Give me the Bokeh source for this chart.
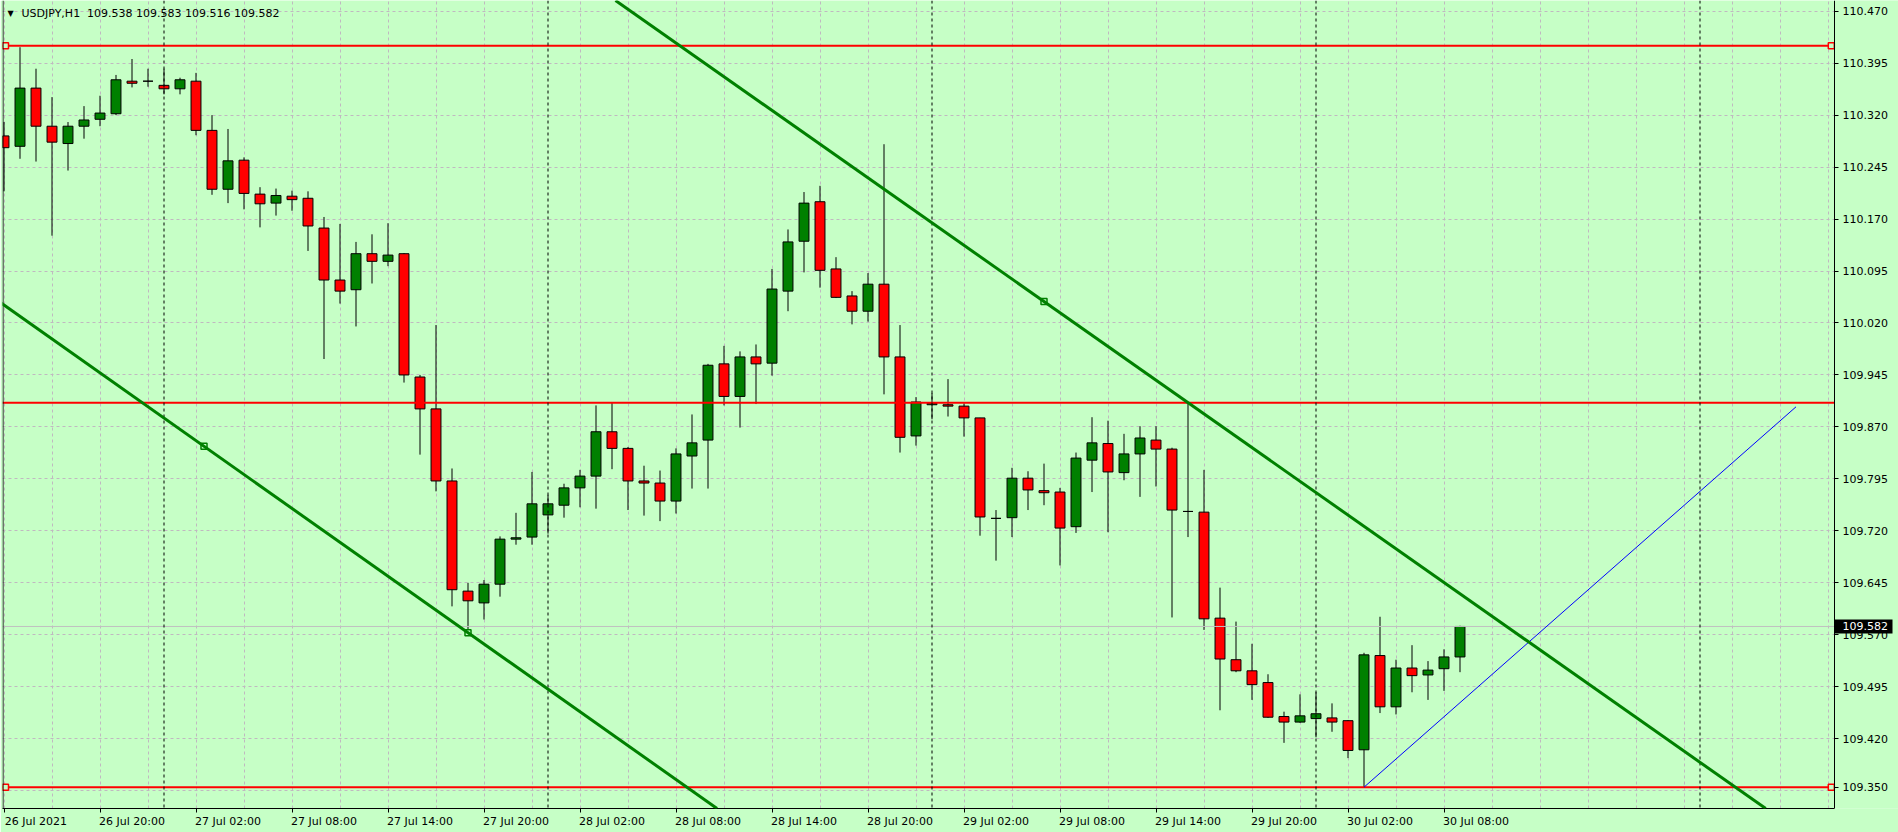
from bokeh.plotting import figure
from bokeh.models import (ColumnDataSource, Range1d, FixedTicker, Span, Slope,
                          Label, PrintfTickFormatter, LinearAxis)
from bokeh.embed import file_html
from bokeh.resources import INLINE

# ---------------- data ----------------
title_text = "USDJPY,H1\u00a0 109.538 109.583 109.516 109.582"

opens = [110.290, 110.275, 110.359, 110.304, 110.279, 110.304, 110.314, 110.322, 110.369, 110.369,
         110.363, 110.358, 110.369, 110.298, 110.213, 110.255, 110.206, 110.193, 110.203, 110.200,
         110.157, 110.082, 110.068, 110.120, 110.109, 110.120, 109.942, 109.896, 109.792, 109.633,
         109.616, 109.643, 109.708, 109.711, 109.743, 109.757, 109.782, 109.799, 109.863, 109.839,
         109.792, 109.789, 109.763, 109.828, 109.851, 109.961, 109.914, 109.971, 109.962, 110.066,
         110.138, 110.195, 110.098, 110.059, 110.037, 110.076, 109.971, 109.857, 109.902, 109.902,
         109.900, 109.883, 109.738, 109.739, 109.796, 109.778, 109.776, 109.726, 109.822, 109.846,
         109.804, 109.831, 109.851, 109.838, 109.748, 109.747, 109.594, 109.534, 109.518, 109.501,
         109.452, 109.444, 109.449, 109.450, 109.446, 109.404, 109.540, 109.466, 109.522, 109.512,
         109.521, 109.538]
highs = [110.310, 110.418, 110.387, 110.346, 110.310, 110.333, 110.348, 110.378, 110.401, 110.387,
         110.387, 110.374, 110.381, 110.320, 110.300, 110.259, 110.216, 110.214, 110.211, 110.210,
         110.173, 110.163, 110.137, 110.148, 110.164, 110.121, 109.945, 110.017, 109.810, 109.645,
         109.649, 109.712, 109.746, 109.805, 109.772, 109.788, 109.808, 109.901, 109.905, 109.841,
         109.814, 109.807, 109.839, 109.888, 109.961, 109.987, 109.979, 109.989, 110.098, 110.155,
         110.209, 110.218, 110.115, 110.066, 110.092, 110.278, 110.017, 109.913, 109.919, 109.939,
         109.904, 109.883, 109.750, 109.811, 109.806, 109.817, 109.782, 109.833, 109.884, 109.879,
         109.860, 109.871, 109.871, 109.840, 109.905, 109.808, 109.638, 109.589, 109.557, 109.513,
         109.459, 109.484, 109.487, 109.471, 109.447, 109.544, 109.596, 109.534, 109.555, 109.532,
         109.549, 109.583]
lows = [110.210, 110.257, 110.253, 110.146, 110.240, 110.286, 110.304, 110.320, 110.360, 110.361,
        110.350, 110.350, 110.291, 110.205, 110.193, 110.184, 110.158, 110.175, 110.182, 110.124,
        109.968, 110.048, 110.015, 110.077, 110.102, 109.934, 109.830, 109.777, 109.611, 109.573,
        109.592, 109.625, 109.700, 109.700, 109.716, 109.739, 109.754, 109.752, 109.809, 109.750,
        109.742, 109.734, 109.745, 109.781, 109.781, 109.901, 109.869, 109.903, 109.944, 110.037,
        110.093, 110.071, 110.056, 110.018, 110.022, 109.917, 109.833, 109.843, 109.881, 109.885,
        109.856, 109.713, 109.677, 109.711, 109.750, 109.757, 109.670, 109.717, 109.776, 109.718,
        109.793, 109.769, 109.784, 109.595, 109.711, 109.577, 109.461, 109.516, 109.476, 109.450,
        109.414, 109.443, 109.422, 109.430, 109.392, 109.350, 109.457, 109.455, 109.487, 109.476,
        109.489, 109.516]
closes = [110.273, 110.359, 110.304, 110.281, 110.304, 110.313, 110.323, 110.371, 110.366, 110.369,
          110.358, 110.371, 110.298, 110.213, 110.254, 110.207, 110.192, 110.204, 110.198, 110.160,
          110.082, 110.066, 110.120, 110.109, 110.118, 109.945, 109.896, 109.792, 109.635, 109.619,
          109.643, 109.708, 109.710, 109.759, 109.759, 109.782, 109.799, 109.863, 109.839, 109.792,
          109.789, 109.763, 109.831, 109.847, 109.959, 109.914, 109.971, 109.961, 110.069, 110.137,
          110.193, 110.096, 110.057, 110.037, 110.076, 109.971, 109.855, 109.906, 109.904, 109.900,
          109.883, 109.740, 109.738, 109.796, 109.779, 109.775, 109.724, 109.825, 109.847, 109.805,
          109.831, 109.854, 109.838, 109.750, 109.748, 109.593, 109.535, 109.518, 109.498, 109.451,
          109.444, 109.453, 109.456, 109.444, 109.403, 109.541, 109.466, 109.522, 109.511, 109.519,
          109.538, 109.582]

x_tick_bars = [0, 6, 12, 18, 24, 30, 36, 42, 48, 54, 60, 66, 72, 78, 84, 90]
x_tick_labels = ["26 Jul 2021", "26 Jul 20:00", "27 Jul 02:00", "27 Jul 08:00", "27 Jul 14:00",
                 "27 Jul 20:00", "28 Jul 02:00", "28 Jul 08:00", "28 Jul 14:00", "28 Jul 20:00",
                 "29 Jul 02:00", "29 Jul 08:00", "29 Jul 14:00", "29 Jul 20:00", "30 Jul 02:00",
                 "30 Jul 08:00"]
x_grid_bars = [0, 3, 6, 9, 12, 15, 18, 21, 24, 27, 30, 33, 36, 39, 42, 45, 48, 51, 54, 57, 60,
               63, 66, 69, 72, 75, 78, 81, 84, 87, 90, 93, 96, 99, 102, 105, 108, 111, 114]
day_separator_bars = [10, 34, 58, 82, 106]

y_tick_values = [110.470, 110.395, 110.320, 110.245, 110.170, 110.095, 110.020, 109.945,
                 109.870, 109.795, 109.720, 109.645, 109.570, 109.495, 109.420, 109.350]
y_grid_values = [110.470, 110.395, 110.320, 110.245, 110.170, 110.095, 110.020, 109.945,
                 109.870, 109.795, 109.720, 109.645, 109.570, 109.495, 109.420, 109.345]

hline_prices = [110.420, 109.905, 109.350]
selected_hline_prices = [110.420, 109.350]
upper_trend_bars = [65, 74]
upper_trend_prices = [110.051, 109.905]
lower_trend_bars = [12.5, 29]
lower_trend_prices = [109.842, 109.573]
blue_bars = [85, 112]
blue_prices = [109.350, 109.899]
last_price = 109.582

# ---------------- style / layout ----------------
BG = "#C6FFC6"
BULL = "#008000"
BEAR = "#FF0000"
GRID = "#C0B8C0"
FONT = "DejaVu Sans"
PX_PER_BAR = 16
PRICE_PER_PX = 0.0014433
LEFT_PAD = 2
FRAME_W = 1896          # chart area + price scale (the price scale lives inside the frame)
FRAME_H = 808
X_START = -0.09375                    # bar position at the frame's left edge
X_CHART_END = 114.40625               # right edge of the chart area (price scale begins)
X_END = X_START + FRAME_W / PX_PER_BAR
Y_END = 110.48544
Y_START = Y_END - FRAME_H * PRICE_PER_PX
LABEL_SHIFT = 2  # MT4 date labels start at their tick: centre them ~2 bars to the right

p = figure(frame_width=FRAME_W, frame_height=FRAME_H,
           x_range=Range1d(X_START, X_END), y_range=Range1d(Y_START, Y_END),
           y_axis_location="right", output_backend="svg", toolbar_location=None,
           min_border_left=LEFT_PAD, min_border_top=0, min_border_right=0,
           min_border_bottom=24)
p.background_fill_color = BG
p.border_fill_color = BG
p.outline_line_color = None

xa = p.xaxis[0]
ya = p.yaxis[0]

# grid
p.xgrid.ticker = FixedTicker(ticks=x_grid_bars)
p.ygrid.ticker = FixedTicker(ticks=y_grid_values)
for g in (p.xgrid, p.ygrid):
    g.grid_line_color = GRID
    g.grid_line_dash = "3 3"
    g.grid_line_width = 1

# price-scale area: plain background (hides grid lines there)
p.quad(left=[X_CHART_END], right=[X_END], bottom=[Y_START], top=[Y_END],
       fill_color=BG, line_color=None)

# chart left border
p.add_layout(Span(location=X_START + 0.5 / PX_PER_BAR, dimension="height",
                  line_color="black", line_width=1))

# x axis: tick marks at the bars (minor ticks), labels centred just right of them
label_ticks = [b + LABEL_SHIFT for b in x_tick_bars]
xa.ticker = FixedTicker(ticks=label_ticks, minor_ticks=x_tick_bars)
xa.major_label_overrides = {t: s for t, s in zip(label_ticks, x_tick_labels)}
xa.bounds = (X_START, X_CHART_END)
xa.major_tick_line_color = None
xa.major_tick_out = 0
xa.major_tick_in = 0
xa.minor_tick_line_color = "black"
xa.minor_tick_out = 4
xa.minor_tick_in = 0
xa.major_label_standoff = 2

# y axis: fixed at the chart's right edge
ya.fixed_location = X_CHART_END
ya.ticker = FixedTicker(ticks=y_tick_values)
ya.formatter = PrintfTickFormatter(format="%.3f")
ya.major_tick_line_color = "black"
ya.major_tick_out = 4
ya.major_tick_in = 0
ya.minor_tick_line_color = None
ya.major_label_standoff = 4
for ax in (xa, ya):
    ax.axis_line_color = "black"
    ax.major_label_text_font = FONT
    ax.major_label_text_font_size = "11px"
    ax.major_label_text_color = "black"

# last-price tag on the price scale (black box = thick tick, white label on top)
tag = LinearAxis(fixed_location=X_CHART_END, ticker=FixedTicker(ticks=[last_price]),
                 formatter=PrintfTickFormatter(format="%.3f"),
                 axis_line_color=None, minor_tick_line_color=None,
                 major_tick_line_color="black", major_tick_line_width=14,
                 major_tick_line_cap="butt", major_tick_out=58, major_tick_in=0,
                 major_label_standoff=-50, major_label_text_font=FONT,
                 major_label_text_font_size="11px", major_label_text_color="white")
p.add_layout(tag, "right")

# day separators
for b in day_separator_bars:
    p.add_layout(Span(location=b, dimension="height", line_color="black",
                      line_dash="3 3", line_width=1))

# candles
idx = list(range(len(opens)))
colors = [BULL if c > o else (BEAR if c < o else "black") for o, c in zip(opens, closes)]
src = ColumnDataSource(dict(
    x=idx, high=highs, low=lows,
    top=[max(o, c) for o, c in zip(opens, closes)],
    bottom=[min(o, c) for o, c in zip(opens, closes)],
    color=colors))
p.segment(x0="x", y0="high", x1="x", y1="low", source=src, line_color="black", line_width=1)
p.vbar(x="x", width=0.62, top="top", bottom="bottom", source=src,
       fill_color="color", line_color="black", line_width=1)

# last price line (chart area only)
p.segment(x0=[X_START], y0=[last_price], x1=[X_CHART_END], y1=[last_price],
          line_color="#C0C0C0", line_width=1)

# horizontal red lines (chart area only)
n = len(hline_prices)
p.segment(x0=[X_START] * n, y0=hline_prices, x1=[X_CHART_END] * n, y1=hline_prices,
          line_color="#FF0000", line_width=2)
sq_x, sq_y = [], []
for pr in selected_hline_prices:
    sq_x += [X_START + 3 / PX_PER_BAR, X_CHART_END - 3.2 / PX_PER_BAR]
    sq_y += [pr, pr]
p.scatter(sq_x, sq_y, marker="square", size=6, line_color="#FF0000", line_width=1.5, fill_color=BG)

# trend lines
def slope_of(bx, py):
    g = (py[1] - py[0]) / (bx[1] - bx[0])
    return g, py[0] - g * bx[0]

g1, b1 = slope_of(upper_trend_bars, upper_trend_prices)
g2, b2 = slope_of(lower_trend_bars, lower_trend_prices)
p.add_layout(Slope(gradient=g1, y_intercept=b1, line_color=BULL, line_width=3))
p.add_layout(Slope(gradient=g2, y_intercept=b2, line_color=BULL, line_width=3))
p.scatter([upper_trend_bars[0]], [upper_trend_prices[0]], marker="square", size=6,
          line_color=BULL, line_width=1.5, fill_color=BG)
p.scatter(lower_trend_bars, lower_trend_prices, marker="square", size=6,
          line_color=BULL, line_width=1.5, fill_color=BG)

# blue line
p.line(blue_bars, blue_prices, line_color="#0000FF", line_width=1)

# title
p.add_layout(Label(x=5, y=FRAME_H - 12.5, x_units="screen", y_units="screen", text="\u25BC",
                   text_font=FONT, text_font_size="8px", text_color="black",
                   text_baseline="middle"))
p.add_layout(Label(x=19, y=FRAME_H - 12.5, x_units="screen", y_units="screen", text=title_text,
                   text_font=FONT, text_font_size="11px", text_color="black",
                   text_baseline="middle"))

open("out.html", "w").write(file_html(p, INLINE))
